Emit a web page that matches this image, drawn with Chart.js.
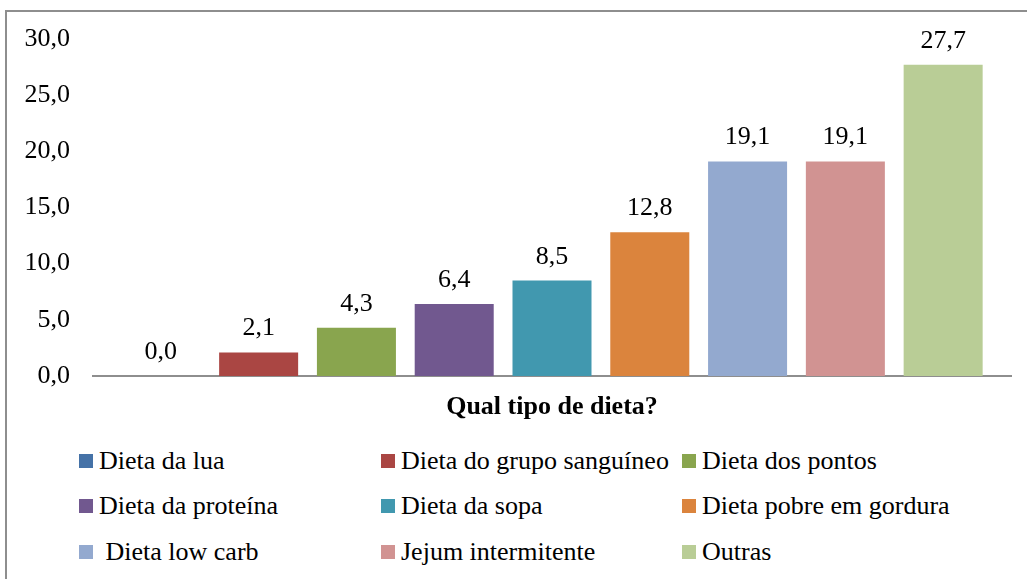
<!DOCTYPE html>
<html>
<head>
<meta charset="utf-8">
<script src="https://cdn.jsdelivr.net/npm/chart.js@4"></script>
<style>
  body { margin: 0; background: #fff; font-family: 'Liberation Serif', 'Times New Roman', Times, serif; }
  #wrap { position: relative; width: 1027px; height: 579px; overflow: hidden; }
  #frame { position: absolute; left: 5px; top: 10px; width: 1040px; height: 600px;
           border-left: 2px solid #8e8e8e; border-top: 2px solid #8e8e8e; }
  #chart { position: absolute; left: 0; top: 0; }
  #legend { position: absolute; left: 79px; top: 438px; display: grid;
            grid-template-columns: 302px 301px auto; grid-auto-rows: 45.5px; }
  .item { display: flex; align-items: center; font-family: 'Liberation Serif', 'Times New Roman', Times, serif;
          font-size: 26px; color: #000; }
  .item span { white-space: pre; }
  .box { width: 14px; height: 14px; margin-right: 6px; flex: none; }
</style>
</head>
<body>
<div id="wrap">
  <div id="frame"></div>
  <canvas id="chart" width="1027" height="430"></canvas>
  <div id="legend"></div>
</div>
<script>
const categories = ['Qual tipo de dieta?'];
const dietNames = [
  'Dieta da lua', 'Dieta do grupo sanguíneo', 'Dieta dos pontos',
  'Dieta da proteína', 'Dieta da sopa', 'Dieta pobre em gordura',
  ' Dieta low carb', 'Jejum intermitente', 'Outras'
];
const percentages = [0.0, 2.1, 4.3, 6.4, 8.5, 12.8, 19.1, 19.1, 27.7];
const barColors = [
  '#4572A7', '#AA4643', '#89A54E', '#71588F', '#4198AF',
  '#DB843D', '#93A9CF', '#D19392', '#B9CD96'
];
const yTicks = [0, 5, 10, 15, 20, 25, 30];

const fmt = v => v.toFixed(1).replace('.', ',');
const fontStack = "'Liberation Serif', 'Times New Roman', Times, serif";

Chart.defaults.font.family = fontStack;
Chart.defaults.color = '#000';

// numbers above each bar
const valueLabels = {
  id: 'valueLabels',
  afterDatasetsDraw(chart) {
    const ctx = chart.ctx;
    ctx.save();
    ctx.font = '26px ' + fontStack;
    ctx.fillStyle = '#000';
    ctx.textAlign = 'center';
    ctx.textBaseline = 'alphabetic';
    chart.data.datasets.forEach((ds, i) => {
      chart.getDatasetMeta(i).data.forEach((bar, j) => {
        ctx.fillText(fmt(ds.data[j]), bar.x, bar.y - 17);
      });
    });
    ctx.restore();
  }
};

new Chart(document.getElementById('chart'), {
  type: 'bar',
  data: {
    labels: categories,
    datasets: dietNames.map((name, i) => ({
      label: name,
      data: [percentages[i]],
      backgroundColor: barColors[i],
      categoryPercentage: 0.9587,
      barPercentage: 0.808
    }))
  },
  options: {
    responsive: false,
    animation: false,
    layout: { padding: { top: 39, right: 16, bottom: 0, left: 0 } },
    plugins: { legend: { display: false }, tooltip: { enabled: false } },
    scales: {
      x: {
        grid: { display: false, drawTicks: false },
        border: { display: true, color: '#8e8e8e', width: 2 },
        ticks: { display: false },
        title: {
          display: true,
          text: categories[0],
          color: '#000',
          font: { family: fontStack, size: 26, weight: 'bold' },
          padding: { top: 15.4, bottom: 7.4 }
        }
      },
      y: {
        min: 0,
        max: 30,
        grid: { display: false, drawTicks: false },
        border: { display: false },
        afterBuildTicks: axis => { axis.ticks = yTicks.map(v => ({ value: v })); },
        afterFit: axis => { axis.width = 93; },
        ticks: {
          padding: 23,
          color: '#000',
          font: { family: fontStack, size: 26 },
          callback: v => fmt(v)
        }
      }
    }
  },
  plugins: [valueLabels]
});

// legend in three columns below the chart
document.getElementById('legend').innerHTML = dietNames.map((name, i) => `
  <div class="item"><div class="box" style="background:${barColors[i]}"></div><span>${name}</span></div>
`).join('');
</script>
</body>
</html>
